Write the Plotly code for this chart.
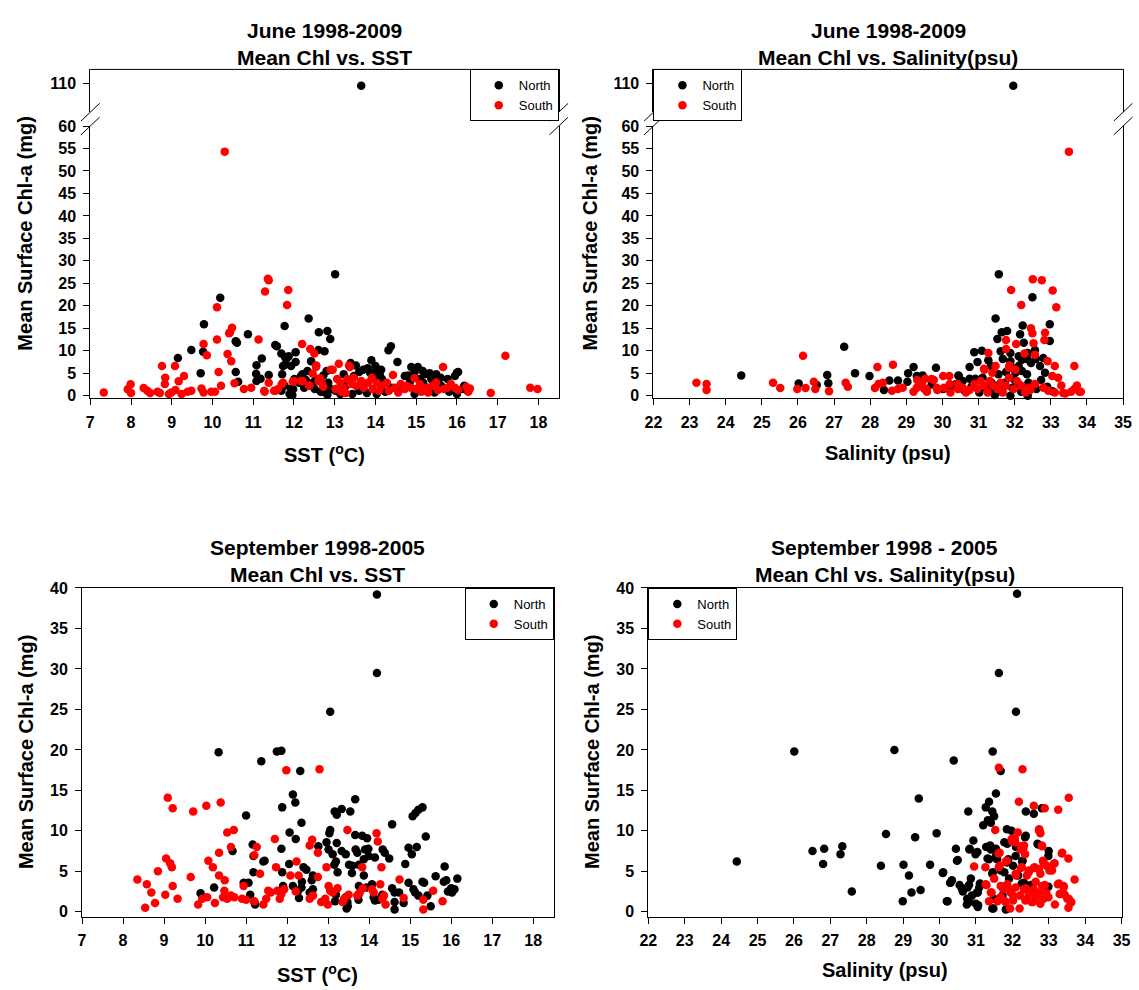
import plotly.graph_objects as go

W, H = 1139, 990

# ---------------- June 1998-2009, Chl vs SST ----------------
jun_sst_north_x = [13.65, 9.15, 9.48, 9.71, 9.77, 9.79, 10.19, 10.57, 10.60, 10.57, 10.63, 10.87, 11.08, 11.07,
                   11.21, 11.38, 11.18, 11.08, 11.54, 11.58, 11.77, 11.69, 11.78, 11.78, 11.87, 11.73, 11.93, 11.81,
                   12.04, 12.04, 11.71, 11.96, 11.98, 11.89, 11.93, 12.01, 11.77, 11.69, 12.36, 12.42, 12.61, 12.82,
                   12.89, 12.75, 12.60, 13.01, 12.80, 12.77, 12.82, 12.17, 12.29, 12.51, 12.21, 12.33, 12.54, 12.72,
                   12.84, 12.90, 12.13, 12.25, 12.46, 12.66, 12.78, 13.90, 14.00, 14.32, 14.38, 14.54, 14.80, 14.88,
                   15.04, 15.33, 16.00, 15.95, 15.16, 13.52, 13.39, 13.70, 13.81, 14.00, 14.14, 13.22, 13.47, 13.60,
                   13.87, 14.11, 13.98, 14.96, 15.21, 15.37, 15.60, 16.03, 16.18, 16.26, 13.02, 13.27, 13.43, 13.60,
                   13.79, 14.03, 14.24, 14.40, 14.64, 14.84, 14.96, 15.17, 15.29, 15.45, 15.61, 15.81, 16.00, 16.14,
                   13.14, 14.16, 14.72, 15.09, 15.49, 15.77]
jun_sst_north_y = [109.5, 8.4, 10.2, 5.0, 9.8, 15.9, 21.8, 12.1, 11.8, 5.3, 3.1, 13.7, 6.8, 4.9,
                   8.3, 4.6, 3.8, 3.3, 11.3, 11.0, 15.5, 9.4, 8.6, 6.9, 8.8, 6.6, 6.6, 8.2,
                   9.7, 7.5, 4.8, 0.15, 1.5, 0.4, 1.5, 3.7, 2.2, 1.1, 17.2, 7.7, 14.1, 14.4,
                   12.6, 9.9, 10.2, 27.0, 5.5, 0.7, 0.2, 4.4, 3.5, 1.5, 4.8, 5.5, 3.7, 4.5,
                   2.9, 1.5, 2.9, 1.8, 2.9, 0.9, 2.2, 7.9, 5.3, 10.1, 11.0, 7.5, 4.5, 6.4,
                   6.4, 5.0, 5.1, 4.4, 5.5, 6.7, 7.3, 5.8, 6.1, 6.6, 5.8, 4.8, 4.4, 5.3,
                   5.1, 4.5, 3.7, 5.3, 4.8, 3.7, 4.0, 5.3, 2.2, 1.1, 1.1, 2.2, 0.4, 1.1,
                   0.6, 0.4, 0.9, 1.8, 2.2, 2.9, 0.4, 2.9, 1.8, 0.7, 2.2, 0.9, 0.4, 1.5,
                   0.4, 3.7, 4.4, 3.7, 4.8, 3.7]
jun_sst_south_x = [7.33, 7.92, 7.99, 8.00, 8.31, 8.40, 8.47, 8.65, 8.71, 8.76, 8.83, 8.84, 8.93, 8.99, 9.09, 9.08,
                   9.17, 9.30, 9.24, 9.39, 9.48, 9.73, 9.78, 9.78, 9.86, 9.97, 10.06, 10.11, 10.11, 10.15, 10.21,
                   10.30, 10.37, 10.41, 10.48, 10.46, 10.43, 10.54, 10.77, 10.95, 11.13, 11.29, 11.36, 11.38, 11.27,
                   11.28, 11.38, 11.51, 11.61, 11.70, 11.73, 11.55, 11.86, 11.83, 12.00, 11.97, 12.20, 12.17, 12.21,
                   12.40, 12.50, 12.46, 12.37, 12.38, 12.54, 12.55, 12.60, 12.64, 12.68, 12.62, 12.72, 12.90, 12.95,
                   13.10, 13.35, 13.37, 13.06, 13.14, 13.20, 13.31, 13.39, 13.47, 13.52, 13.65, 13.71, 13.82, 13.91,
                   13.93, 14.03, 14.09, 14.16, 14.28, 14.43, 14.33, 14.48, 14.56, 14.62, 14.72, 14.76, 14.87, 14.96,
                   15.00, 15.09, 15.13, 15.25, 15.29, 15.41, 15.49, 15.53, 15.66, 15.68, 15.77, 15.85, 15.95, 16.03,
                   16.23, 16.28, 16.32, 16.83, 17.19, 17.80, 17.98, 13.02, 13.16, 13.27]
jun_sst_south_y = [0.73, 1.46, 2.56, 0.6, 1.7, 1.1, 0.6, 0.9, 0.6, 6.6, 2.6, 4.0, 0.4, 0.7, 1.3, 6.6,
                   3.2, 4.4, 0.4, 0.9, 1.1, 1.6, 0.7, 11.5, 9.0, 0.9, 0.9, 19.7, 12.5, 5.3, 2.2,
                   54.3, 9.3, 13.9, 15.1, 7.7, 14.1, 2.8, 1.5, 1.8, 12.5, 23.2, 26.0, 25.7, 1.1,
                   0.9, 2.9, 1.1, 1.5, 2.6, 2.9, 1.1, 23.5, 20.2, 3.3, 3.1, 11.5, 3.3, 3.3,
                   10.4, 9.4, 4.9, 2.2, 2.3, 6.4, 6.7, 3.3, 3.9, 2.9, 3.5, 2.0, 5.8, 5.8,
                   7.1, 6.7, 6.4, 3.7, 2.9, 1.8, 3.7, 2.6, 4.0, 2.2, 3.3, 1.8, 2.9, 4.0,
                   1.5, 2.9, 1.1, 2.2, 2.9, 4.6, 1.1, 1.8, 0.7, 2.6, 1.5, 2.2, 1.8, 3.9,
                   1.5, 2.6, 0.9, 1.8, 0.7, 2.2, 2.9, 1.3, 6.4, 1.5, 1.8, 2.6, 1.8, 1.3,
                   2.0, 0.9, 1.6, 0.6, 8.9, 1.75, 1.5, 1.5, 0.9, 0.6]

# ---------------- June 1998-2009, Chl vs Salinity ----------------
jun_sal_north_x = [24.43, 26.02, 26.52, 26.81, 26.84, 27.28, 27.58, 27.98, 28.38, 28.53, 28.77, 29.03, 29.05, 29.20,
                   29.45, 29.29, 29.43, 29.82, 30.44, 31.56, 31.96, 32.49, 31.47, 32.22, 32.97, 31.64, 31.79, 32.15,
                   32.25, 31.52, 32.97, 30.88, 31.09, 31.27, 30.97, 30.75, 31.61, 31.67, 31.88, 31.88, 32.11, 32.20,
                   32.36, 32.34, 32.56, 32.58, 32.45, 32.11, 31.93, 31.34, 31.55, 31.76, 32.02, 32.20, 32.34, 32.70,
                   32.79, 32.84, 32.73, 30.45, 30.75, 30.91, 31.11, 30.56, 30.38, 31.36, 31.55, 31.73, 31.93, 32.11,
                   32.38, 31.02, 31.45, 31.88, 32.36, 32.18, 31.34, 30.02, 29.70, 30.20, 30.60, 30.80, 31.20, 31.60,
                   32.00, 32.60, 32.90, 33.05]
jun_sal_north_y = [4.5, 2.7, 2.4, 4.6, 2.8, 10.9, 5.0, 4.4, 1.3, 3.4, 3.4, 3.1, 5.0, 6.4,
                   4.5, 4.4, 4.0, 6.2, 4.5, 27.0, 109.5, 21.9, 17.2, 15.6, 15.9, 14.1, 14.4, 13.7,
                   11.8, 12.6, 12.2, 9.7, 10.0, 7.9, 7.5, 6.4, 9.9, 8.2, 9.5, 7.7, 8.8, 8.0,
                   9.5, 8.2, 10.2, 8.2, 7.3, 6.6, 6.2, 6.6, 4.8, 5.3, 5.1, 5.5, 4.8, 6.6,
                   8.4, 5.1, 3.5, 4.4, 3.8, 3.8, 4.0, 3.3, 2.6, 2.9, 2.3, 2.9, 1.8, 2.6,
                   2.9, 0.7, 0.15, 0.0, 0.0, 0.9, 1.1, 1.5, 2.5, 1.5, 1.2, 2.0, 1.8, 1.0,
                   3.5, 1.5, 2.0, 1.0]
jun_sal_south_x = [23.19, 23.47, 23.47, 25.31, 25.51, 25.98, 26.14, 26.21, 26.44, 26.48, 26.86, 27.32, 27.38, 28.13,
                   28.20, 28.23, 28.35, 28.63, 28.60, 28.77, 28.90, 29.20, 29.30, 29.37, 29.29, 29.43, 29.50, 29.53,
                   29.57, 29.56, 29.70, 29.76, 29.84, 29.86, 30.02, 30.04, 30.19, 30.20, 30.22, 30.42, 30.43, 30.56,
                   30.65, 30.75, 30.88, 30.97, 31.06, 31.15, 31.25, 31.31, 31.40, 31.52, 31.61, 31.67, 31.75, 31.84,
                   31.97, 32.06, 32.18, 32.29, 32.38, 32.43, 32.56, 32.79, 32.93, 33.11, 33.34, 33.56, 33.65, 33.72,
                   33.79, 33.29, 33.20, 33.04, 33.11, 33.65, 32.91, 32.56, 32.52, 32.27, 32.04, 31.76, 31.76, 31.27,
                   31.15, 31.38, 31.47, 31.84, 32.02, 32.49, 32.45, 32.84, 32.82, 32.18, 33.15, 31.90, 33.05, 32.50,
                   32.75, 33.50, 31.16, 31.85, 33.83, 33.40]
jun_sal_south_y = [2.9, 2.6, 1.3, 2.9, 1.7, 1.5, 8.9, 1.7, 3.1, 1.5, 1.0, 2.9, 2.0, 1.7,
                   6.4, 2.6, 2.9, 6.9, 1.1, 1.5, 1.8, 0.9, 3.5, 2.3, 1.8, 2.6, 1.5, 3.8,
                   0.9, 1.5, 3.7, 3.5, 1.8, 1.3, 4.4, 1.8, 4.4, 2.6, 0.7, 2.6, 1.5, 1.8,
                   0.7, 1.3, 2.6, 1.5, 3.3, 2.2, 0.7, 3.3, 2.2, 1.5, 2.9, 0.7, 2.2, 4.0,
                   1.5, 3.3, 2.2, 0.7, 1.8, 1.3, 2.6, 1.8, 1.1, 0.7, 0.6, 0.9, 1.5, 2.3,
                   0.9, 2.3, 4.0, 4.4, 6.6, 6.6, 7.7, 9.1, 11.7, 9.4, 11.5, 10.4, 12.4, 9.5,
                   6.0, 5.1, 6.6, 6.2, 5.8, 13.9, 15.0, 14.0, 12.4, 20.2, 19.7, 23.5, 23.4, 25.9,
                   25.7, 54.3, 5.8, 6.7, 0.9, 0.5]

# ---------------- September 1998-2005, Chl vs SST ----------------
sep_sst_north_x = [14.19, 14.19, 13.05, 10.33, 11.75, 11.86, 11.37, 12.32, 12.14, 12.20, 11.88, 13.66, 13.16, 13.21,
                   13.33, 13.54, 11.00, 15.06, 15.13, 15.20, 15.30, 14.56, 15.38, 14.96, 15.16, 15.04, 12.06, 12.35,
                   12.21, 11.86, 12.76, 13.03, 13.05, 12.96, 13.21, 13.66, 13.83, 13.95, 13.01, 13.33, 13.43, 13.11,
                   13.19, 13.15, 13.67, 13.71, 13.90, 13.98, 13.99, 14.14, 14.33, 14.38, 14.49, 13.87, 13.51, 13.75,
                   13.59, 13.58, 13.87, 14.88, 10.67, 11.16, 11.18, 11.42, 11.45, 9.89, 10.22, 10.94, 11.06, 11.10,
                   11.22, 11.20, 11.18, 11.88, 12.05, 12.14, 12.36, 12.35, 12.47, 12.40, 12.63, 12.60, 12.63, 12.55,
                   12.29, 12.27, 11.90, 13.19, 13.17, 13.43, 13.47, 13.45, 13.48, 13.74, 13.74, 13.93, 14.07, 14.11,
                   14.14, 14.23, 14.32, 14.56, 14.62, 14.73, 14.62, 14.62, 14.84, 14.96, 15.08, 15.12, 15.20, 15.30,
                   15.34, 15.42, 15.50, 15.62, 15.84, 15.82, 15.88, 15.92, 16.00, 16.08, 16.15, 16.02, 13.23, 13.75]
sep_sst_north_y = [39.2, 29.5, 24.7, 19.7, 19.8, 19.9, 18.6, 17.4, 14.5, 13.5, 12.9, 13.9, 12.4, 12.0,
                   12.7, 12.4, 11.9, 11.8, 12.2, 12.6, 12.9, 10.8, 9.3, 7.9, 8.0, 7.1, 9.8, 11.0,
                   9.0, 7.8, 8.1, 9.7, 10.1, 8.6, 8.5, 9.5, 9.4, 9.1, 7.7, 7.5, 7.1, 7.1,
                   6.2, 5.8, 7.7, 7.3, 7.7, 7.8, 6.9, 6.7, 7.7, 7.3, 6.6, 6.5, 5.8, 5.8,
                   5.7, 4.8, 4.5, 5.9, 7.5, 8.3, 6.9, 6.2, 6.3, 2.3, 3.0, 3.6, 3.6, 2.1,
                   0.9, 1.2, 4.9, 4.9, 5.9, 3.2, 3.7, 3.0, 5.2, 5.5, 4.5, 3.9, 2.8, 2.4,
                   1.7, 2.6, 3.2, 2.1, 1.3, 1.8, 1.2, 0.4, 0.7, 2.1, 1.5, 3.0, 3.4, 1.8,
                   1.4, 1.5, 2.1, 2.9, 2.4, 2.4, 1.2, 0.3, 1.1, 3.6, 2.8, 2.4, 2.0, 3.7,
                   3.6, 2.0, 0.7, 4.4, 5.6, 3.7, 3.9, 2.5, 2.9, 2.8, 4.1, 2.4, 4.9, 3.2]
sep_sst_south_x = [8.35, 8.58, 8.69, 8.54, 8.78, 8.85, 9.05, 9.15, 9.19, 9.21, 9.03, 9.33, 9.09, 9.21, 9.71, 10.03,
                   10.38, 9.65, 9.83, 9.93, 10.05, 10.08, 10.19, 10.34, 10.34, 10.24, 10.48, 10.47, 10.44, 10.54,
                   10.63, 10.71, 10.54, 10.70, 10.63, 10.94, 10.90, 11.00, 11.20, 11.26, 11.20, 11.34, 11.42, 11.49,
                   11.54, 11.60, 11.70, 11.73, 11.76, 11.82, 11.86, 11.93, 11.98, 12.08, 12.23, 12.21, 12.28, 12.55,
                   12.61, 12.75, 12.75, 12.55, 12.63, 12.79, 12.96, 13.01, 13.05, 12.99, 12.83, 12.93, 13.11, 13.23,
                   13.39, 13.35, 13.47, 13.50, 13.71, 13.77, 13.83, 13.85, 14.07, 14.11, 14.18, 14.21, 14.27, 14.30,
                   14.36, 14.40, 14.32, 14.74, 14.84, 15.32, 15.32, 15.56, 15.79]
sep_sst_south_y = [4.0, 3.4, 2.4, 0.5, 1.1, 5.0, 6.6, 6.0, 5.5, 3.2, 2.1, 1.6, 14.1, 12.8, 12.4, 13.1,
                   13.5, 4.3, 0.9, 1.6, 1.8, 6.3, 5.5, 7.3, 4.5, 1.1, 3.9, 2.6, 1.8, 1.6,
                   2.0, 1.8, 9.8, 10.1, 8.0, 3.2, 1.6, 1.5, 1.3, 8.0, 7.0, 4.7, 0.9, 1.6,
                   2.6, 2.4, 9.0, 5.5, 2.6, 1.6, 2.2, 2.8, 17.5, 4.5, 6.2, 2.5, 4.5, 8.2,
                   8.9, 7.3, 4.3, 1.6, 2.0, 17.6, 5.5, 3.2, 2.6, 0.9, 1.2, 1.6, 2.4, 2.9,
                   1.6, 1.2, 10.1, 2.1, 2.0, 2.4, 5.5, 2.9, 2.8, 2.4, 9.7, 8.7, 3.4, 5.5,
                   2.0, 0.9, 1.6, 4.0, 1.7, 1.5, 0.3, 2.6, 1.3]

# ---------------- September 1998-2005, Chl vs Salinity ----------------
sep_sal_north_x = [32.13, 31.63, 32.10, 26.01, 28.76, 31.46, 30.39, 31.68, 31.55, 29.43, 31.36, 30.79, 31.27, 32.37,
                   32.59, 32.81, 31.45, 31.50, 31.41, 31.20, 24.43, 26.51, 26.83, 26.80, 27.28, 27.33, 27.59, 28.39,
                   28.53, 29.01, 28.99, 29.16, 29.23, 29.33, 29.48, 29.74, 29.92, 30.10, 30.22, 30.30, 30.34, 30.45,
                   30.50, 30.55, 30.61, 30.75, 30.76, 30.81, 30.83, 30.89, 30.86, 30.93, 30.99, 31.04, 31.03, 31.06,
                   31.11, 31.33, 31.39, 31.28, 31.36, 31.46, 31.55, 31.58, 31.48, 31.85, 31.78, 31.85, 31.98, 31.78,
                   31.85, 32.02, 32.10, 32.37, 32.28, 32.69, 32.74, 32.99, 32.99, 32.26, 32.51, 31.86, 32.35, 32.71,
                   33.00, 31.41, 31.32, 31.55, 30.82, 31.00, 30.48, 31.89, 32.09, 32.27, 31.45, 31.68, 31.91, 32.16,
                   32.32, 32.50, 30.09, 30.29, 30.64, 30.77, 31.05, 31.09, 30.82, 31.00, 30.20, 31.05, 31.45, 31.82,
                   31.50, 31.73]
sep_sal_north_y = [39.3, 29.5, 24.7, 19.8, 20.0, 19.8, 18.7, 17.4, 14.6, 14.0, 13.6, 12.4, 12.9, 12.4,
                   12.1, 12.8, 12.4, 11.8, 11.0, 10.7, 6.2, 7.5, 7.8, 5.9, 7.1, 8.1, 2.5, 5.7,
                   9.6, 5.8, 1.3, 4.5, 2.4, 9.2, 2.7, 5.8, 9.7, 4.9, 1.3, 3.6, 3.9, 7.8,
                   6.4, 3.3, 2.9, 0.9, 1.6, 3.3, 7.8, 2.0, 4.1, 8.8, 7.1, 7.4, 2.4, 0.8,
                   3.5, 11.3, 8.2, 8.0, 6.5, 4.9, 7.8, 6.5, 0.4, 0.4, 8.6, 10.2, 10.0, 4.9,
                   6.1, 5.7, 8.0, 9.4, 6.3, 8.4, 10.0, 6.9, 3.1, 3.5, 3.3, 8.4, 9.2, 8.3,
                   7.5, 7.7, 6.6, 6.9, 7.7, 7.3, 6.3, 6.5, 6.9, 6.2, 4.7, 5.1, 4.1, 4.5,
                   3.6, 3.2, 4.8, 3.6, 2.5, 3.0, 2.4, 3.0, 1.2, 1.0, 1.3, 0.6, 0.4, 0.3,
                   1.6, 2.0]
sep_sal_south_x = [31.63, 32.28, 32.18, 32.59, 32.89, 33.26, 33.55, 31.53, 31.26, 31.29, 31.36, 31.43, 31.50, 31.65,
                   31.63, 31.68, 31.80, 31.85, 31.92, 31.98, 32.02, 32.08, 32.15, 32.10, 32.20, 32.26, 32.30, 32.32,
                   32.35, 32.40, 32.45, 32.51, 32.61, 32.64, 32.69, 32.74, 32.77, 32.77, 32.81, 32.84, 32.89, 32.94,
                   32.99, 33.09, 33.14, 33.17, 33.28, 33.30, 33.37, 33.41, 33.44, 33.51, 33.54, 33.54, 33.60, 33.71,
                   32.77, 32.56, 32.40, 32.37, 31.94, 31.27, 31.41, 31.59, 31.68, 31.75, 31.82, 31.86, 31.95, 32.02,
                   32.09, 32.21, 32.32, 32.36, 32.45, 32.53, 32.59, 32.64, 32.73, 32.82, 32.86, 32.93, 33.25, 33.32,
                   33.41, 33.55, 33.62, 33.16, 33.02, 32.86, 32.73, 32.59, 32.45, 32.23, 32.09, 31.82, 31.65, 31.62,
                   30.95, 32.07, 32.00, 32.25, 32.23, 32.73, 32.82, 33.36]
sep_sal_south_y = [17.8, 17.6, 13.6, 13.1, 12.8, 12.6, 14.1, 10.1, 5.5, 3.3, 1.3, 2.4, 4.1, 7.3,
                   5.5, 3.2, 1.3, 6.3, 2.8, 9.0, 2.0, 8.6, 9.8, 4.5, 0.4, 5.5, 7.8, 8.2,
                   7.1, 4.5, 5.1, 2.4, 5.5, 3.7, 2.0, 10.2, 9.7, 4.7, 8.2, 6.3, 3.3, 5.7,
                   1.8, 5.1, 5.9, 0.9, 3.5, 2.2, 7.3, 3.2, 2.1, 1.6, 6.6, 0.5, 1.1, 4.0,
                   1.0, 1.2, 1.6, 2.9, 0.4, 3.4, 2.4, 1.3, 1.8, 2.8, 1.2, 3.4, 2.4, 1.4,
                   3.0, 2.0, 2.8, 1.4, 2.2, 1.2, 2.8, 1.8, 2.4, 3.2, 1.6, 2.4, 3.4, 2.2,
                   3.0, 1.6, 1.2, 6.0, 5.1, 6.1, 5.3, 5.4, 4.9, 5.4, 4.7, 6.2, 5.7, 7.2,
                   5.6, 9.0, 8.7, 8.1, 7.7, 10.1, 8.1, 7.2]

sst_ticks = list(range(7, 19))
sal_ticks = list(range(22, 36))
jun_low_ticks = list(range(0, 61, 5))
jun_high_ticks = [110]
sep_ticks = list(range(0, 41, 5))
BREAK_AT = 60

FONT = "Liberation Sans, Arial, Helvetica, sans-serif"
BLACK = "#000000"
RED = "#ff0000"


def X(p):
    return p / W


def Y(p):
    return 1 - p / H


fig = go.Figure()


def add(xs, ys, xa, ya, color, name, legend, show):
    fig.add_trace(go.Scatter(x=xs, y=ys, mode="markers", xaxis=xa, yaxis=ya, name=name,
                             legend=legend, showlegend=show, cliponaxis=False,
                             marker=dict(size=8.5, color=color, line=dict(width=0))))


def split(xs, ys):
    lo = [(a, b) for a, b in zip(xs, ys) if b <= BREAK_AT]
    hi = [(a, b) for a, b in zip(xs, ys) if b > BREAK_AT]
    return ([a for a, _ in lo], [b for _, b in lo]), ([a for a, _ in hi], [b for _, b in hi])


# June SST (x / y lower, y2 upper)
(nl, nh) = split(jun_sst_north_x, jun_sst_north_y)
(sl, sh) = split(jun_sst_south_x, jun_sst_south_y)
add(nl[0], nl[1], "x", "y", BLACK, "North", "legend", True)
add(nh[0], nh[1], "x", "y2", BLACK, "North", "legend", False)
add(sl[0], sl[1], "x", "y", RED, "South", "legend", True)
if sh[0]:
    add(sh[0], sh[1], "x", "y2", RED, "South", "legend", False)
# June Salinity (x2 / y3 lower, y4 upper)
(nl, nh) = split(jun_sal_north_x, jun_sal_north_y)
(sl, sh) = split(jun_sal_south_x, jun_sal_south_y)
add(nl[0], nl[1], "x2", "y3", BLACK, "North", "legend2", True)
add(nh[0], nh[1], "x2", "y4", BLACK, "North", "legend2", False)
add(sl[0], sl[1], "x2", "y3", RED, "South", "legend2", True)
if sh[0]:
    add(sh[0], sh[1], "x2", "y4", RED, "South", "legend2", False)
# September
add(sep_sst_north_x, sep_sst_north_y, "x3", "y5", BLACK, "North", "legend3", True)
add(sep_sst_south_x, sep_sst_south_y, "x3", "y5", RED, "South", "legend3", True)
add(sep_sal_north_x, sep_sal_north_y, "x4", "y6", BLACK, "North", "legend4", True)
add(sep_sal_south_x, sep_sal_south_y, "x4", "y6", RED, "South", "legend4", True)

tickfont = dict(family=FONT, size=16, color=BLACK, weight="bold")
common = dict(showgrid=False, zeroline=False, showline=True, linecolor=BLACK, linewidth=1,
              ticks="outside", ticklen=6, tickwidth=1, tickcolor=BLACK, tickfont=tickfont,
              ticklabeloverflow="allow")

# frame geometry (pixels)
TL = dict(l=82.6, r=558.6, t=62.3, b=396.0)
TR = dict(l=654.8, r=1132.0, t=62.3, b=396.0)
BL = dict(l=74.2, r=553.5, t=588.3, b=921.7)
BR = dict(l=649.6, r=1130.4, t=588.3, b=921.7)
LOW_TOP = 119.7
UP_BOT = 105.7
PXU = 4.56  # px per unit on June axes
low_range = [-(TL["b"] - 393.3) / PXU, BREAK_AT]
up_range = [110 - (UP_BOT - 76.7) / PXU, 110 + (76.7 - TL["t"]) / PXU]

XSO = 3
YSO = 4
fig.update_layout(
    width=W, height=H, margin=dict(l=0, r=0, t=0, b=0),
    paper_bgcolor="white", plot_bgcolor="white",
    xaxis=dict(domain=[X(TL["l"]), X(TL["r"])], range=[7, 18.5], anchor="y", tickvals=sst_ticks,
               ticklabelstandoff=XSO, **common),
    yaxis=dict(domain=[Y(TL["b"]), Y(LOW_TOP)], range=low_range, anchor="x", tickvals=jun_low_ticks,
               mirror=True, ticklabelstandoff=YSO, **common),
    yaxis2=dict(domain=[Y(UP_BOT), Y(TL["t"])], range=up_range, anchor="x", tickvals=jun_high_ticks,
                mirror=True, ticklabelstandoff=YSO, **common),
    xaxis2=dict(domain=[X(TR["l"]), X(TR["r"])], range=[22, 35], anchor="y3", tickvals=sal_ticks,
                ticklabelstandoff=XSO, **common),
    yaxis3=dict(domain=[Y(TR["b"]), Y(LOW_TOP)], range=low_range, anchor="x2", tickvals=jun_low_ticks,
                mirror=True, ticklabelstandoff=YSO, **common),
    yaxis4=dict(domain=[Y(UP_BOT), Y(TR["t"])], range=up_range, anchor="x2", tickvals=jun_high_ticks,
                mirror=True, ticklabelstandoff=YSO, **common),
    xaxis3=dict(domain=[X(BL["l"]), X(BL["r"])], range=[7, 18.5], anchor="y5", tickvals=sst_ticks,
                mirror=True, ticklabelstandoff=XSO, **common),
    yaxis5=dict(domain=[Y(BL["b"]), Y(BL["t"])], range=[-0.6, 40], anchor="x3", tickvals=sep_ticks,
                mirror=True, ticklabelstandoff=YSO, **common),
    xaxis4=dict(domain=[X(BR["l"]), X(BR["r"])], range=[22, 35], anchor="y6", tickvals=sal_ticks,
                mirror=True, ticklabelstandoff=XSO, **common),
    yaxis6=dict(domain=[Y(BR["b"]), Y(BR["t"])], range=[-0.6, 40], anchor="x4", tickvals=sep_ticks,
                mirror=True, ticklabelstandoff=YSO, **common),
)

leg = dict(bgcolor="white", bordercolor=BLACK, borderwidth=1, font=dict(family=FONT, size=13, color=BLACK),
           yanchor="top", traceorder="normal", indentation=8)
fig.update_layout(
    legend=dict(x=X(TL["r"]), xanchor="right", y=Y(TL["t"]), **leg),
    legend2=dict(x=X(TR["l"]), xanchor="left", y=Y(TR["t"]), **leg),
    legend3=dict(x=X(BL["r"]), xanchor="right", y=Y(BL["t"]), **leg),
    legend4=dict(x=X(BR["l"]), xanchor="left", y=Y(BR["t"]), **leg),
)

shapes = []
for fr in (TL, TR):
    shapes.append(dict(type="line", xref="paper", yref="paper", x0=X(fr["l"]), x1=X(fr["r"]),
                       y0=Y(fr["t"]), y1=Y(fr["t"]), line=dict(color=BLACK, width=1)))
    for xc in (fr["l"], fr["r"]):
        for yc in (UP_BOT, LOW_TOP):
            shapes.append(dict(type="line", xref="paper", yref="paper",
                               x0=X(xc - 9.5), y0=Y(yc + 9), x1=X(xc + 9.5), y1=Y(yc - 9),
                               line=dict(color=BLACK, width=1)))
fig.update_layout(shapes=shapes)

ann = []
titles = [
    ("June 1998-2009", "Mean Chl vs. SST", TL, 23.3, 50.0),
    ("June 1998-2009", "Mean Chl vs. Salinity(psu)", TR, 23.3, 50.0),
    ("September 1998-2005", "Mean Chl vs. SST", BL, 547.5, 574.3),
    ("September 1998 - 2005", "Mean Chl vs. Salinity(psu)", BR, 547.5, 574.3),
]
for l1, l2, fr, y1, y2 in titles:
    cx = (fr["l"] + fr["r"]) / 2
    for txt, yy in ((l1, y1), (l2, y2)):
        ann.append(dict(text="<b>%s</b>" % txt, xref="paper", yref="paper", x=X(cx), y=Y(yy),
                        xanchor="center", yanchor="middle", showarrow=False,
                        font=dict(family=FONT, size=21, color=BLACK)))

xtitles = [("SST (<sup>o</sup>C)", TL, 452), ("Salinity (psu)", TR, 451),
           ("SST (<sup>o</sup>C)", BL, 979), ("Salinity (psu)", BR, 976)]
for txt, fr, yy in xtitles:
    cx = (fr["l"] + fr["r"]) / 2
    ann.append(dict(text="<b>%s</b>" % txt, xref="paper", yref="paper", x=X(cx), y=Y(yy),
                    xanchor="center", yanchor="middle", showarrow=False,
                    font=dict(family=FONT, size=20, color=BLACK)))

ytitles = [(TL, 16), (TR, 590), (BL, 18), (BR, 593)]
for fr, xx in ytitles:
    cy = (fr["t"] + fr["b"]) / 2
    ann.append(dict(text="<b>Mean Surface Chl-a (mg)</b>", xref="paper", yref="paper", x=X(xx), y=Y(cy),
                    xanchor="center", yanchor="middle", showarrow=False, textangle=-90,
                    font=dict(family=FONT, size=20, color=BLACK)))
fig.update_layout(annotations=ann)

fig.write_html("out.html")
